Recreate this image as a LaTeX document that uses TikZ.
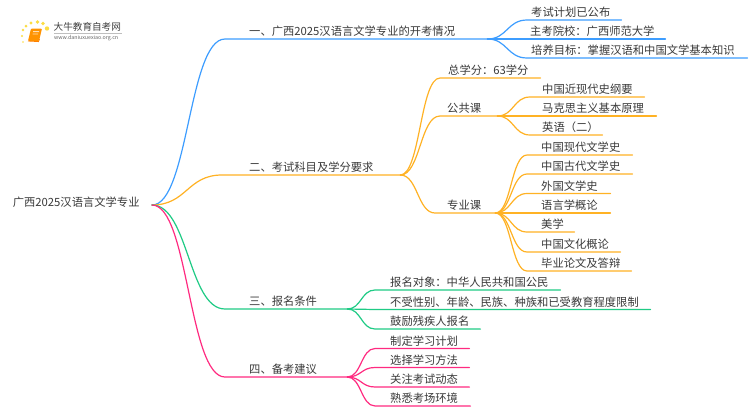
\documentclass[tikz,border=0pt]{standalone}
\usepackage{fontspec}
\setmainfont{Noto Sans CJK SC}
\usetikzlibrary{calc}
\definecolor{cblue}{HTML}{3D9DFF}
\definecolor{corange}{HTML}{FFB224}
\definecolor{cgreen}{HTML}{1FCB85}
\definecolor{cpink}{HTML}{FF2A80}
\definecolor{ctext}{HTML}{3A3A3A}
\tikzset{
  lab/.style={anchor=south west,inner ysep=0.5pt,text height=9.5pt,text depth=2.5pt,text=ctext,font=\fontsize{11.3}{13}\selectfont,align=left},
  lnk/.style={line width=1.2pt,line cap=round},
  logotxt/.style={inner sep=0pt,anchor=west},
}
% name, x0, x1, y(line), text x, text
\newcommand{\lf}[6]{%
  \pgfmathsetmacro{\myw}{#3-#2}\pgfmathsetmacro{\mysep}{#5-#2}%
  \node[lab,inner xsep=0pt,text width=\myw pt] (#1) at (#2,#4) {\hspace*{\mysep pt}\mbox{#6}};%
}
\newcommand{\cn}[3]{%
  \draw[lnk,#1] let \p1=(#2),\p2=(#3.south west),\p3=(#3.south east) in
   (\p1) .. controls ({(\x1+\x2)/2},\y1) and ({(\x1+\x2)/2},\y2) .. (\p2) -- (\p3);%
}
\begin{document}
\begin{tikzpicture}[x=1pt,y=-1pt]
\useasboundingbox (0,0) rectangle (750,410);
\fill[white] (0,0) rectangle (750,410);
% logo
\foreach \a/\b/\r in {47/28.5/2.2,43/23.5/1.8,37.5/22/1.8,31/23/1.7,26/26/1.5,23/30/1.3,22/36/1.1,23/42/.9}
  \fill[yellow!70!orange,opacity=.75] (\a,\b) circle (\r);
\fill[orange!85!yellow,rounded corners=1pt] (31,28.5) -- (42,28.5) -- (39,41) -- (28,41) -- cycle;
\draw[orange,line width=.8pt] (28,41) -- (38.5,41.6) -- (39.5,39);
\fill[white,opacity=.7] (33,31) rectangle (39,32) (32.5,33.5) rectangle (38,34.3);
\node[logotxt,text=black!75,font=\fontsize{9.6}{11}\selectfont] (logoa) at (53.5,27) {大牛教育自考网};
\draw[black!25,line width=.4pt] (54,33.2) -- (122,33.2);
\node[logotxt,text=black!60,font=\fontsize{5.3}{6}\selectfont] (logob) at (54,38.5) {www.daniuxuexiao.org.cn};
% root
\node[text=ctext,font=\fontsize{11.3}{13}\selectfont,inner sep=0pt,anchor=east,text height=7.5pt,text depth=4.5pt,text width=139pt,align=left] (root) at (152,205) {广西2025汉语言文学专业};
% level 1
\lf{a}{225}{487}{39}{249}{一、广西2025汉语言文学专业的开考情况}
\lf{b}{222}{400}{175}{249}{二、考试科目及学分要求}
\lf{c}{225}{347}{309}{249}{三、报名条件}
\lf{d}{225}{347}{377}{249}{四、备考建议}
% a children
\lf{a1}{527}{621}{20}{531}{考试计划已公布}
\lf{a2}{527}{665}{39}{530}{主考院校：广西师范大学}
\lf{a3}{527}{747}{58}{531}{培养目标：掌握汉语和中国文学基本知识}
% b children
\lf{b1}{440}{540}{78}{448}{总学分：63学分}
\lf{b2}{440}{497}{116}{447}{公共课}
\lf{b3}{435}{495}{213}{447}{专业课}
\lf{b21}{530}{644}{97}{542}{中国近现代史纲要}
\lf{b22}{530}{656}{116}{542}{马克思主义基本原理}
\lf{b23}{530}{602}{135}{542}{英语（二）}
\lf{b31}{527}{632}{155}{541}{中国现代文学史}
\lf{b32}{527}{632}{174}{541}{中国古代文学史}
\lf{b33}{527}{610}{193.5}{541}{外国文学史}
\lf{b34}{527}{610}{213}{541}{语言学概论}
\lf{b35}{527}{574}{232}{541}{美学}
\lf{b36}{527}{620}{252}{541}{中国文化概论}
\lf{b37}{527}{631}{271}{541}{毕业论文及答辩}
% c children
\lf{c1}{375}{560}{290}{390}{报名对象：中华人民共和国公民}
\lf{c2}{375}{650}{309.5}{390}{不受性别、年龄、民族、种族和已受教育程度限制}
\lf{c3}{375}{480}{329}{390}{鼓励残疾人报名}
% d children
\lf{d1}{375}{469}{348.5}{390}{制定学习计划}
\lf{d2}{375}{469}{367.5}{390}{选择学习方法}
\lf{d3}{375}{469}{387}{390}{关注考试动态}
\lf{d4}{375}{470}{406}{390}{熟悉考场环境}
% connectors
\cn{cblue}{root.east}{a}
\cn{corange}{root.east}{b}
\cn{cgreen}{root.east}{c}
\cn{cpink}{root.east}{d}
\cn{cblue}{a.south east}{a1}
\cn{cblue}{a.south east}{a2}
\cn{cblue}{a.south east}{a3}
\cn{corange}{b.south east}{b1}
\cn{corange}{b.south east}{b2}
\cn{corange}{b.south east}{b3}
\cn{corange}{b2.south east}{b21}
\cn{corange}{b2.south east}{b22}
\cn{corange}{b2.south east}{b23}
\cn{corange}{b3.south east}{b31}
\cn{corange}{b3.south east}{b32}
\cn{corange}{b3.south east}{b33}
\cn{corange}{b3.south east}{b34}
\cn{corange}{b3.south east}{b35}
\cn{corange}{b3.south east}{b36}
\cn{corange}{b3.south east}{b37}
\cn{cgreen}{c.south east}{c1}
\cn{cgreen}{c.south east}{c2}
\cn{cgreen}{c.south east}{c3}
\cn{cpink}{d.south east}{d1}
\cn{cpink}{d.south east}{d2}
\cn{cpink}{d.south east}{d3}
\cn{cpink}{d.south east}{d4}
\end{tikzpicture}
\end{document}
